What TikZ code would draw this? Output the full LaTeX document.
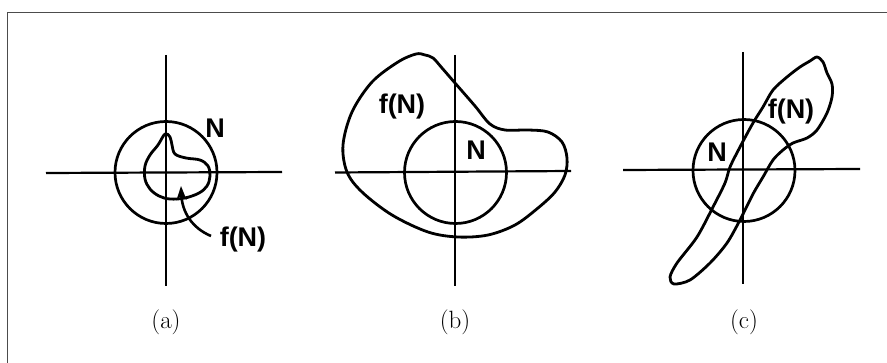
\documentclass[tikz,border=0pt]{standalone}
\usepackage{fontspec}
\newfontfamily\lblfont{Liberation Sans}[Scale=1]
\usetikzlibrary{arrows.meta}
\begin{document}
\begin{tikzpicture}[x=1pt,y=-1pt,
  axis/.style={line width=2.2pt,black},
  nbhd/.style={line width=2.7pt,black},
  blob/.style={line width=2.8pt,black,line join=round},
  sanslbl/.style={font=\lblfont\bfseries\fontsize{27}{31}\selectfont,inner sep=0pt},
  caplbl/.style={font=\fontsize{25}{29}\selectfont,inner sep=0pt}]
\useasboundingbox (0,0) rectangle (887,363);
% frame
\coordinate (fb) at (7.5,363);
\coordinate (ftl) at (7.5,12.5);
\coordinate (fr) at (887,12.5);
\draw[line width=1.6pt,black!70] (fb) -- (ftl) -- (fr);

% ---------- panel (a)
\coordinate (aL) at (46,173); \coordinate (aR) at (282,172);
\coordinate (aT) at (166,55); \coordinate (aB) at (166,286);
\draw[axis] (aL) -- (aR);
\draw[axis] (aT) -- (aB);
\node[nbhd,draw,circle,minimum size=102pt,inner sep=0pt] (ca) at (166,172.5) {};
\draw[blob] plot[smooth cycle,tension=0.6] coordinates{
 (165,134) (170,137) (172,145) (175,154) (186,158) (200,160) (208,166)
 (210,176) (207,186) (199,193) (185,198) (170,199) (159,196) (150,189)
 (145,179) (145,166) (150,155) (158,145)};
\node[sanslbl] (Na) at (215,128) {N};
\node[sanslbl] (fa) at (243,240) {f(N)};
\coordinate (arrs) at (211,236);
\coordinate (arre) at (181,186);
\draw[line width=2.6pt,-{Stealth[length=14pt,width=10pt]}] (arrs) .. controls (192,228) and (182,212) .. (arre);
\node[caplbl] (la) at (166,322) {(a)};

% ---------- panel (b)
\coordinate (bL) at (335,172.5); \coordinate (bR) at (571,171);
\coordinate (bT) at (455,55); \coordinate (bB) at (455,286);
\draw[axis] (bL) -- (bR);
\draw[axis] (bT) -- (bB);
\node[nbhd,draw,circle,minimum size=102pt,inner sep=0pt] (cb) at (455.5,172.5) {};
\draw[blob] plot[smooth cycle,tension=0.55] coordinates{
 (425,55) (433,58) (442,68) (455,83) (475,106) (490,124) (505,130)
 (528,130) (548,132) (562,142) (567,158) (565,175) (555,192) (538,208)
 (515,225) (488,235) (458,237) (428,232) (392,215) (362,192) (347,172)
 (343,145) (352,112) (372,82) (398,62) (416,54)};
\node[sanslbl] (fb2) at (402,107) {f(N)};
\node[sanslbl] (Nb) at (476,150) {N};
\node[caplbl] (lb) at (455,322) {(b)};

% ---------- panel (c)
\coordinate (cL) at (623,170); \coordinate (cR) at (860,169);
\coordinate (cT) at (743,52); \coordinate (cB) at (743,284);
\draw[axis] (cL) -- (cR);
\draw[axis] (cT) -- (cB);
\node[nbhd,draw,circle,minimum size=102pt,inner sep=0pt] (cc) at (744,170.5) {};
\draw[blob] plot[smooth cycle,tension=0.5] coordinates{
 (817,57) (823,62) (827,73) (832,84) (832,97) (827,113) (817,130)
 (807,138) (793,143) (783,150) (773,160) (763,177) (753,194) (740,220)
 (727,243) (710,263) (690,280) (674,284) (670,277) (677,263) (697,237)
 (713,207) (725,183) (730,167) (740,147) (753,123) (763,107) (773,90)
 (787,77) (800,67) (810,61)};
\node[sanslbl] (Nc) at (717,152) {N};
\node[sanslbl] (fc) at (791,112) {f(N)};
\node[caplbl] (lc) at (744,322) {(c)};
\end{tikzpicture}
\end{document}
